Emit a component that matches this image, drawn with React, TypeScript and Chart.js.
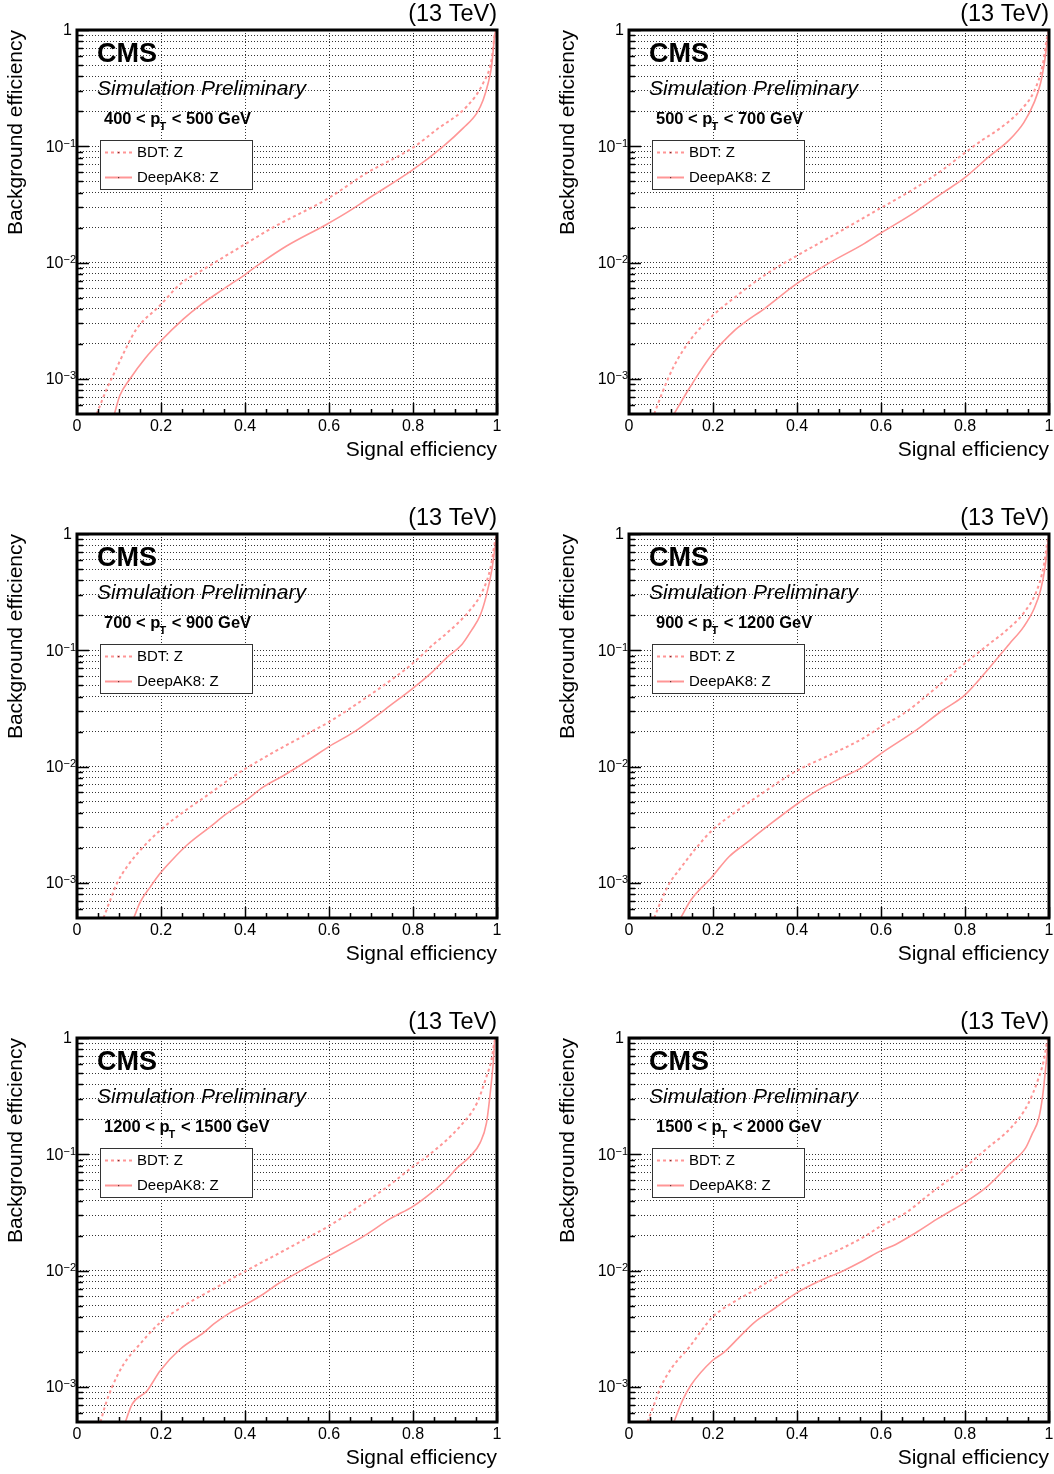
import React, { useEffect, useRef } from "react";
import { Chart, registerables } from "chart.js";

Chart.register(...registerables);

const FONT = "'Liberation Sans', Arial, Helvetica, sans-serif";
const CURVE_COLOR = "rgb(255,150,150)";
const GRID_COLOR = "rgba(0,0,0,0.8)";

// pT bins
const PT_LOW = [400, 500, 700, 900, 1200, 1500];
const PT_HIGH = [500, 700, 900, 1200, 1500, 2000];

const SERIES_LABELS = ["BDT: Z", "DeepAK8: Z"];

// Axis tick values
const X_TICKS = [0, 0.05, 0.1, 0.15, 0.2, 0.25, 0.3, 0.35, 0.4, 0.45, 0.5, 0.55, 0.6, 0.65, 0.7, 0.75, 0.8, 0.85, 0.9, 0.95, 1];
const Y_TICKS = [
  6e-4, 7e-4, 8e-4, 9e-4,
  1e-3, 2e-3, 3e-3, 4e-3, 5e-3, 6e-3, 7e-3, 8e-3, 9e-3,
  1e-2, 2e-2, 3e-2, 4e-2, 5e-2, 6e-2, 7e-2, 8e-2, 9e-2,
  1e-1, 2e-1, 3e-1, 4e-1, 5e-1, 6e-1, 7e-1, 8e-1, 9e-1,
  1,
];

// Panel 1: 400 < pT < 500
const P1_BDT_SIG = [0.047, 0.06, 0.072, 0.09, 0.118, 0.142, 0.198, 0.245, 0.309, 0.4, 0.467, 0.594, 0.69, 0.8, 0.856, 0.928, 0.967, 0.987, 0.995, 1];
const P1_BDT_BKG = [5e-4, 6.6e-4, 8.4e-4, 1.15e-3, 1.88e-3, 2.7e-3, 4.3e-3, 6.5e-3, 9.1e-3, 0.0144, 0.0201, 0.035, 0.059, 0.0975, 0.139, 0.22, 0.349, 0.553, 0.93, 1];
const P1_DAK_SIG = [0.089, 0.102, 0.126, 0.162, 0.2, 0.253, 0.293, 0.348, 0.4, 0.444, 0.499, 0.594, 0.642, 0.69, 0.8, 0.872, 0.92, 0.952, 0.967, 0.979, 0.987, 0.991, 0.995, 1];
const P1_DAK_BKG = [5e-4, 7.2e-4, 1e-3, 1.5e-3, 2.13e-3, 3.27e-3, 4.3e-3, 5.9e-3, 7.9e-3, 0.0103, 0.0139, 0.0213, 0.0269, 0.0349, 0.063, 0.1, 0.144, 0.193, 0.25, 0.35, 0.485, 0.67, 0.93, 1];

// Panel 2: 500 < pT < 700
const P2_BDT_SIG = [0.06, 0.079, 0.107, 0.147, 0.198, 0.254, 0.325, 0.397, 0.516, 0.599, 0.675, 0.746, 0.798, 0.841, 0.88, 0.93, 0.965, 0.985, 0.995, 1];
const P2_BDT_BKG = [5e-4, 7.6e-4, 1.29e-3, 2.19e-3, 3.47e-3, 5.1e-3, 7.9e-3, 0.0113, 0.0198, 0.0294, 0.0423, 0.0626, 0.087, 0.113, 0.14, 0.2, 0.3, 0.5, 0.85, 1];
const P2_DAK_SIG = [0.107, 0.147, 0.198, 0.254, 0.274, 0.325, 0.397, 0.476, 0.556, 0.599, 0.683, 0.746, 0.798, 0.857, 0.905, 0.94, 0.965, 0.98, 0.99, 0.996, 1];
const P2_DAK_BKG = [5e-4, 8.7e-4, 1.63e-3, 2.67e-3, 3.04e-3, 4.09e-3, 6.5e-3, 9.9e-3, 0.0143, 0.0179, 0.0275, 0.0396, 0.0532, 0.0815, 0.113, 0.16, 0.24, 0.35, 0.55, 0.8, 1];

// Panel 3: 700 < pT < 900
const P3_BDT_SIG = [0.063, 0.079, 0.095, 0.119, 0.151, 0.198, 0.254, 0.317, 0.365, 0.401, 0.476, 0.556, 0.599, 0.69, 0.746, 0.798, 0.849, 0.88, 0.93, 0.965, 0.985, 0.995, 1];
const P3_BDT_BKG = [5e-4, 7.1e-4, 9.9e-4, 1.38e-3, 1.92e-3, 2.84e-3, 4.09e-3, 5.9e-3, 7.9e-3, 9.6e-3, 0.0138, 0.0198, 0.0241, 0.0396, 0.055, 0.0764, 0.113, 0.14, 0.21, 0.32, 0.52, 0.85, 1];
const P3_DAK_SIG = [0.135, 0.151, 0.175, 0.198, 0.226, 0.262, 0.317, 0.357, 0.401, 0.444, 0.492, 0.556, 0.599, 0.659, 0.698, 0.746, 0.798, 0.841, 0.881, 0.917, 0.94, 0.96, 0.975, 0.988, 0.996, 1];
const P3_DAK_BKG = [5e-4, 6.9e-4, 9.3e-4, 1.21e-3, 1.57e-3, 2.12e-3, 3.04e-3, 3.96e-3, 5.1e-3, 6.7e-3, 8.4e-3, 0.0117, 0.0148, 0.0198, 0.0249, 0.0336, 0.0466, 0.0627, 0.087, 0.113, 0.15, 0.2, 0.3, 0.5, 0.8, 1];

// Panel 4: 900 < pT < 1200
const P4_BDT_SIG = [0.06, 0.079, 0.099, 0.119, 0.159, 0.198, 0.254, 0.317, 0.401, 0.476, 0.556, 0.599, 0.659, 0.714, 0.798, 0.857, 0.9, 0.94, 0.97, 0.987, 0.996, 1];
const P4_BDT_BKG = [5e-4, 7.4e-4, 1.03e-3, 1.29e-3, 1.98e-3, 2.84e-3, 4.09e-3, 5.9e-3, 9.3e-3, 0.0125, 0.0174, 0.0219, 0.0294, 0.0423, 0.0764, 0.113, 0.15, 0.21, 0.32, 0.52, 0.85, 1];
const P4_DAK_SIG = [0.123, 0.147, 0.198, 0.238, 0.278, 0.333, 0.401, 0.444, 0.508, 0.556, 0.599, 0.683, 0.746, 0.798, 0.849, 0.905, 0.94, 0.965, 0.98, 0.99, 0.997, 1];
const P4_DAK_BKG = [5e-4, 7.1e-4, 1.13e-3, 1.68e-3, 2.19e-3, 3.14e-3, 4.8e-3, 6.1e-3, 8.1e-3, 9.9e-3, 0.0129, 0.0205, 0.0304, 0.0408, 0.0647, 0.113, 0.16, 0.23, 0.33, 0.5, 0.8, 1];

// Panel 5: 1200 < pT < 1500
const P5_BDT_SIG = [0.056, 0.067, 0.083, 0.111, 0.143, 0.198, 0.254, 0.317, 0.401, 0.476, 0.556, 0.599, 0.69, 0.746, 0.801, 0.84, 0.912, 0.952, 0.975, 0.987, 0.995, 1];
const P5_BDT_BKG = [5e-4, 6.9e-4, 9.9e-4, 1.57e-3, 2.19e-3, 3.58e-3, 4.98e-3, 6.7e-3, 9.9e-3, 0.0138, 0.0198, 0.0241, 0.0396, 0.055, 0.079, 0.1, 0.174, 0.275, 0.466, 0.65, 0.96, 1];
const P5_DAK_SIG = [0.115, 0.131, 0.167, 0.198, 0.246, 0.302, 0.325, 0.365, 0.401, 0.444, 0.476, 0.54, 0.599, 0.683, 0.746, 0.801, 0.853, 0.88, 0.905, 0.936, 0.96, 0.975, 0.983, 0.991, 0.995, 1];
const P5_DAK_BKG = [5e-4, 7.1e-4, 9.3e-4, 1.38e-3, 2.12e-3, 2.94e-3, 3.47e-3, 4.36e-3, 5.1e-3, 6.3e-3, 7.6e-3, 0.0103, 0.0134, 0.0198, 0.028, 0.0359, 0.0498, 0.061, 0.0764, 0.096, 0.126, 0.186, 0.314, 0.607, 0.96, 1];

// Panel 6: 1500 < pT < 2000
const P6_BDT_SIG = [0.044, 0.06, 0.075, 0.103, 0.143, 0.198, 0.254, 0.302, 0.333, 0.401, 0.476, 0.556, 0.599, 0.659, 0.714, 0.798, 0.853, 0.91, 0.95, 0.975, 0.988, 0.996, 1];
const P6_BDT_BKG = [5e-4, 7.1e-4, 9.9e-4, 1.48e-3, 2.19e-3, 3.96e-3, 5.5e-3, 6.9e-3, 8.1e-3, 0.0106, 0.0138, 0.0192, 0.0241, 0.0314, 0.045, 0.0764, 0.113, 0.17, 0.27, 0.45, 0.65, 0.95, 1];
const P6_DAK_SIG = [0.107, 0.127, 0.147, 0.198, 0.226, 0.262, 0.298, 0.349, 0.401, 0.452, 0.508, 0.556, 0.599, 0.635, 0.683, 0.738, 0.798, 0.849, 0.905, 0.944, 0.96, 0.975, 0.985, 0.992, 0.997, 1];
const P6_DAK_BKG = [5e-4, 7.6e-4, 1.03e-3, 1.68e-3, 1.98e-3, 2.67e-3, 3.58e-3, 4.8e-3, 6.5e-3, 8.1e-3, 9.9e-3, 0.0121, 0.0148, 0.0168, 0.0212, 0.0284, 0.0383, 0.0514, 0.0815, 0.113, 0.15, 0.2, 0.32, 0.55, 0.85, 1];

const PANELS = [
  { bdtSig: P1_BDT_SIG, bdtBkg: P1_BDT_BKG, dakSig: P1_DAK_SIG, dakBkg: P1_DAK_BKG },
  { bdtSig: P2_BDT_SIG, bdtBkg: P2_BDT_BKG, dakSig: P2_DAK_SIG, dakBkg: P2_DAK_BKG },
  { bdtSig: P3_BDT_SIG, bdtBkg: P3_BDT_BKG, dakSig: P3_DAK_SIG, dakBkg: P3_DAK_BKG },
  { bdtSig: P4_BDT_SIG, bdtBkg: P4_BDT_BKG, dakSig: P4_DAK_SIG, dakBkg: P4_DAK_BKG },
  { bdtSig: P5_BDT_SIG, bdtBkg: P5_BDT_BKG, dakSig: P5_DAK_SIG, dakBkg: P5_DAK_BKG },
  { bdtSig: P6_BDT_SIG, bdtBkg: P6_BDT_BKG, dakSig: P6_DAK_SIG, dakBkg: P6_DAK_BKG },
];

const isMajorX = (v: number) => Math.abs(v * 5 - Math.round(v * 5)) < 1e-6;
const isDecade = (v: number) => {
  const l = Math.log10(v);
  return Math.abs(l - Math.round(l)) < 1e-6;
};
const fmtX = (v: number) => (v < 1e-9 ? "0" : Math.abs(v - 1) < 1e-9 ? "1" : v.toFixed(1));

const CANVAS_W = 502;
const CANVAS_H = 466;
const PLOT_BOTTOM = 414;

const decoPlugin = {
  id: "rocDeco",
  afterDraw(chart: any, _args: any, opts: any) {
    const { ctx, chartArea } = chart;
    const L = chartArea.left, T = chartArea.top, R = chartArea.right, B = chartArea.bottom;
    const xs = chart.scales.x, ys = chart.scales.y;
    ctx.save();

    // inner tick marks
    ctx.strokeStyle = "#000";
    ctx.lineWidth = 1.5;
    ctx.setLineDash([]);
    ctx.beginPath();
    ys.ticks.forEach((t: any) => {
      const py = Math.round(ys.getPixelForValue(t.value)) + 0.5;
      const len = isDecade(t.value) ? 12 : 6;
      ctx.moveTo(L, py);
      ctx.lineTo(L + len, py);
    });
    xs.ticks.forEach((t: any) => {
      const px = Math.round(xs.getPixelForValue(t.value)) + 0.5;
      const len = isMajorX(t.value) ? 11 : 5;
      ctx.moveTo(px, B);
      ctx.lineTo(px, B - len);
    });
    ctx.stroke();

    // frame
    ctx.lineWidth = 3;
    ctx.strokeRect(L, T, R - L, B - T);

    // y tick labels (powers of ten)
    ctx.fillStyle = "#000";
    ys.ticks.forEach((t: any) => {
      if (!isDecade(t.value)) return;
      const e = Math.round(Math.log10(t.value));
      const py = ys.getPixelForValue(t.value);
      if (e === 0) {
        ctx.font = `16px ${FONT}`;
        ctx.textAlign = "right";
        ctx.textBaseline = "middle";
        ctx.fillText("1", L - 5, py + 1);
        return;
      }
      const exp = "\u2212" + String(Math.abs(e));
      ctx.font = `11px ${FONT}`;
      const we = ctx.measureText(exp).width;
      ctx.textAlign = "right";
      ctx.textBaseline = "alphabetic";
      ctx.fillText(exp, L - 1, py + 0.5);
      ctx.font = `16px ${FONT}`;
      ctx.textBaseline = "middle";
      ctx.fillText("10", L - 1 - we, py + 1);
    });

    // texts
    ctx.textBaseline = "alphabetic";
    ctx.textAlign = "right";
    ctx.font = `23.5px ${FONT}`;
    ctx.fillText("(13 TeV)", R, T - 9);

    ctx.textAlign = "left";
    ctx.font = `bold 27px ${FONT}`;
    ctx.fillText("CMS", L + 20, T + 32);
    ctx.font = `italic 21px ${FONT}`;
    ctx.fillText("Simulation Preliminary", L + 20, T + 65);

    let x = L + 27;
    const yb = T + 94;
    ctx.font = `bold 16.5px ${FONT}`;
    const pre = `${opts.lo} < p`;
    ctx.fillText(pre, x, yb);
    x += ctx.measureText(pre).width;
    ctx.font = `bold 11px ${FONT}`;
    ctx.fillText("T", x - 1, yb + 6);
    x += ctx.measureText("T").width;
    ctx.font = `bold 16.5px ${FONT}`;
    ctx.fillText(` < ${opts.hi} GeV`, x, yb);

    // legend
    const bx = L + 23, by = T + 110, bw = 152, bh = 49;
    ctx.fillStyle = "#fff";
    ctx.fillRect(bx, by, bw, bh);
    ctx.strokeStyle = "#333";
    ctx.lineWidth = 1;
    ctx.strokeRect(bx + 0.5, by + 0.5, bw, bh);
    const ds = chart.data.datasets;
    ds.forEach((d: any, i: number) => {
      const ly = by + 12.5 + i * 25;
      ctx.strokeStyle = d.borderColor;
      ctx.lineWidth = 2;
      ctx.setLineDash(d.borderDash || []);
      ctx.beginPath();
      ctx.moveTo(bx + 5, ly);
      ctx.lineTo(bx + 32, ly);
      ctx.stroke();
      ctx.setLineDash([]);
      ctx.fillStyle = "rgba(60,30,30,0.8)";
      ctx.fillRect(bx + 18, ly - 0.5, 1.2, 1.2);
      ctx.fillStyle = "#000";
      ctx.font = `15px ${FONT}`;
      ctx.textBaseline = "middle";
      ctx.fillText(d.label, bx + 37, ly);
    });
    ctx.restore();
  },
};

function Panel({ idx }: { idx: number }) {
  const ref = useRef<HTMLCanvasElement | null>(null);
  useEffect(() => {
    if (!ref.current) return;
    const p = PANELS[idx];
    const chart = new Chart(ref.current, {
      type: "line",
      data: {
        datasets: [
          {
            label: SERIES_LABELS[0],
            data: p.bdtSig.map((s, j) => ({ x: s, y: p.bdtBkg[j] })),
            borderColor: CURVE_COLOR,
            borderWidth: 2,
            borderDash: [3, 3],
            pointRadius: 0,
            cubicInterpolationMode: "monotone",
            fill: false,
          },
          {
            label: SERIES_LABELS[1],
            data: p.dakSig.map((s, j) => ({ x: s, y: p.dakBkg[j] })),
            borderColor: CURVE_COLOR,
            borderWidth: 1.6,
            pointRadius: 0,
            cubicInterpolationMode: "monotone",
            fill: false,
          },
        ],
      },
      options: {
        animation: false,
        responsive: false,
        maintainAspectRatio: false,
        events: [],
        layout: { padding: { top: 30, right: 5, left: 0, bottom: 0 } },
        plugins: {
          legend: { display: false },
          tooltip: { enabled: false },
          rocDeco: { lo: PT_LOW[idx], hi: PT_HIGH[idx] },
        } as any,
        scales: {
          x: {
            type: "linear",
            min: 0,
            max: 1,
            afterBuildTicks: (s: any) => {
              s.ticks = X_TICKS.map((v) => ({ value: v }));
            },
            afterFit: (s: any) => {
              s.height = CANVAS_H - PLOT_BOTTOM;
              s.paddingLeft = 0;
              s.paddingRight = 0;
            },
            ticks: {
              autoSkip: false,
              maxRotation: 0,
              minRotation: 0,
              padding: 3,
              color: "#000",
              font: { family: FONT, size: 16 },
              callback: (v: any) => (isMajorX(Number(v)) ? fmtX(Number(v)) : ""),
            },
            grid: {
              drawTicks: false,
              lineWidth: 1,
              color: (c: any) => {
                const v = c.tick ? c.tick.value : null;
                return v != null && isMajorX(v) && v > 0.01 && v < 0.99 ? GRID_COLOR : "rgba(0,0,0,0)";
              },
            },
            border: { display: false, dash: [1, 2] },
            title: {
              display: true,
              text: "Signal efficiency",
              align: "end",
              color: "#000",
              font: { family: FONT, size: 21 },
              padding: { top: 0, bottom: 3 },
            },
          },
          y: {
            type: "logarithmic",
            min: 5e-4,
            max: 1,
            afterBuildTicks: (s: any) => {
              s.ticks = Y_TICKS.map((v) => ({ value: v }));
            },
            afterFit: (s: any) => {
              s.width = 77;
              s.paddingTop = 0;
              s.paddingBottom = 0;
            },
            ticks: {
              display: false,
              autoSkip: false,
            },
            grid: {
              drawTicks: false,
              lineWidth: 1,
              color: (c: any) => {
                const v = c.tick ? c.tick.value : null;
                return v != null && v < 0.999 ? GRID_COLOR : "rgba(0,0,0,0)";
              },
            },
            border: { display: false, dash: [1, 2] },
            title: {
              display: true,
              text: "Background efficiency",
              align: "end",
              color: "#000",
              font: { family: FONT, size: 21 },
              padding: { top: 4, bottom: 0 },
            },
          },
        },
      } as any,
      plugins: [decoPlugin as any],
    });
    return () => chart.destroy();
  }, [idx]);

  const col = idx % 2;
  const row = Math.floor(idx / 2);
  return (
    <canvas
      ref={ref}
      width={CANVAS_W}
      height={CANVAS_H}
      style={{ position: "absolute", left: col * 552, top: row * 504, width: CANVAS_W, height: CANVAS_H }}
    />
  );
}

export default function App() {
  return (
    <div style={{ position: "absolute", left: 0, top: 0, width: 1054, height: 1474, background: "#fff", overflow: "hidden" }}>
      {PANELS.map((_, i) => (
        <Panel key={i} idx={i} />
      ))}
    </div>
  );
}
